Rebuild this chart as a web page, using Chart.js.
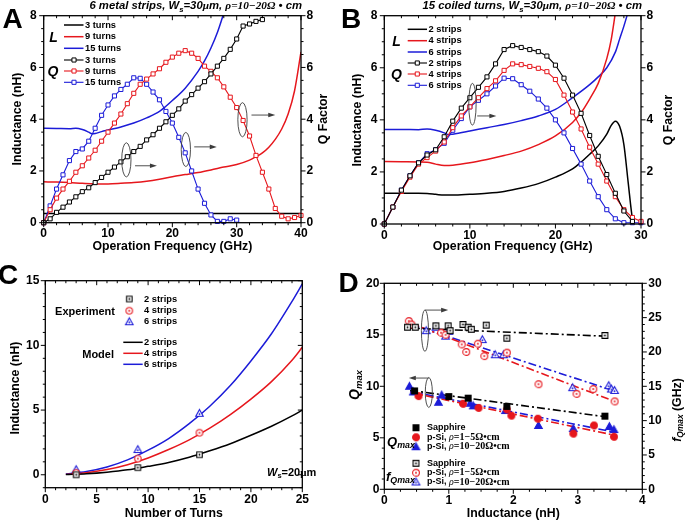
<!DOCTYPE html>
<html>
<head>
<meta charset="utf-8">
<title>Inductor figure</title>
<script src="https://cdn.jsdelivr.net/npm/chart.js@4.4.1/dist/chart.umd.min.js"></script>
<style>
  body { margin: 0; background: #fff; }
  #page { position: relative; width: 685px; height: 527px; overflow: hidden; font-family: "Liberation Sans", Arial, sans-serif; color: #000; }
  canvas { position: absolute; }
  .txt { position: absolute; white-space: nowrap; font-weight: bold; line-height: 1; }
  .mid { transform: translate(-50%, -50%); }
  .rot { transform: translate(-50%, -50%) rotate(-90deg); }
  .endl { transform: translate(-100%, -50%); }
  .startl { transform: translate(0, -50%); }
  .letter { font-size: 28px; }
  .head { font-style: italic; font-size: 11.3px; }
  .serif { font-family: "Liberation Serif", "Times New Roman", serif; }
  .ax { font-size: 12.3px; }
  .big { font-style: italic; font-size: 14px; }
  sub { font-size: 68%; vertical-align: -0.3em; line-height: 0; }
</style>
</head>
<body>
<div id="page">
  <canvas id="chartA" width="342" height="262" style="left:0;top:0"></canvas>
  <canvas id="chartB" width="343" height="262" style="left:342px;top:0"></canvas>
  <canvas id="chartC" width="342" height="265" style="left:0;top:262px"></canvas>
  <canvas id="chartD" width="343" height="265" style="left:342px;top:262px"></canvas>

  <div class="txt letter mid" style="left:12.5px;top:18.5px">A</div>
  <div class="txt letter mid" style="left:351px;top:19px">B</div>
  <div class="txt letter mid" style="left:8px;top:275px">C</div>
  <div class="txt letter mid" style="left:348.5px;top:282.5px">D</div>

  <div class="txt head endl" style="left:302px;top:5.5px">6 metal strips, W<sub>s</sub>=30<span class="serif">μ</span>m, <span class="serif">ρ=10−20Ω</span> • cm</div>
  <div class="txt head endl" style="left:642px;top:5.5px">15 coiled turns, W<sub>s</sub>=30<span class="serif">μ</span>m, <span class="serif">ρ=10−20Ω</span> • cm</div>

  <div class="txt ax rot" style="left:17px;top:119px">Inductance (nH)</div>
  <div class="txt ax rot" style="left:323px;top:119px">Q Factor</div>
  <div class="txt ax rot" style="left:357px;top:120px">Inductance (nH)</div>
  <div class="txt ax rot" style="left:668px;top:120px">Q Factor</div>
  <div class="txt ax rot" style="left:15px;top:388px">Inductance (nH)</div>
  <div class="txt rot" style="left:354px;top:385px;font-size:14px"><i>Q</i><sub><i>max</i></sub></div>
  <div class="txt ax rot" style="left:677px;top:410px"><i>f</i><sub><i>Qmax</i></sub> (GHz)</div>

  <div class="txt big mid" style="left:53.5px;top:36.7px">L</div>
  <div class="txt big mid" style="left:53px;top:71px">Q</div>
  <div class="txt big mid" style="left:396.5px;top:40.7px">L</div>
  <div class="txt big mid" style="left:396.5px;top:74px">Q</div>

  <div class="txt endl" style="left:115px;top:310.7px;font-size:11px">Experiment</div>
  <div class="txt endl" style="left:114px;top:354px;font-size:11px">Model</div>
  <div class="txt startl" style="left:267px;top:472px;font-size:11px"><i>W</i><sub>s</sub>=20<span class="serif">μ</span>m</div>

  <div class="txt startl" style="left:387px;top:441px;font-size:13px"><i>Q</i><sub><i>max</i></sub></div>
  <div class="txt startl" style="left:386px;top:476px;font-size:13px"><i>f</i><sub><i>Qmax</i></sub></div>
</div>

<script>
// ---------- panel A : 6 metal strips, L and Q versus frequency ----------
const fA_L3 = [0, 40];
const lA_3 = [0.36, 0.36];
const fA_L9 = [0, 2, 4, 6, 8, 10, 12, 14, 16, 18, 20, 22, 24, 26, 28, 30, 32, 33, 34, 35, 36, 37, 38, 39, 40];
const lA_9 = [1.58, 1.57, 1.55, 1.52, 1.5, 1.5, 1.52, 1.55, 1.6, 1.68, 1.78, 1.86, 1.94, 2.04, 2.15, 2.25, 2.42, 2.55, 2.7, 2.92, 3.22, 3.62, 4.2, 5.1, 6.6];
const fA_L15 = [0, 2, 4, 5, 6, 7, 7.5, 8, 9, 10, 12, 14, 16, 18, 19, 20, 22, 24, 25, 26, 27, 28];
const lA_15 = [3.65, 3.64, 3.63, 3.65, 3.6, 3.5, 3.44, 3.45, 3.52, 3.58, 3.7, 3.85, 4.05, 4.3, 4.5, 4.72, 5.2, 5.85, 6.25, 6.75, 7.35, 8.1];
const fA_Q = [0, 1, 2, 3, 4, 5, 6, 7, 8, 9, 10, 11, 12, 13, 14, 15, 16, 17, 18, 19, 20,
              21, 22, 23, 24, 25, 26, 27, 28, 29, 30, 31, 32, 33, 34, 35, 36, 37, 38, 39, 40];
const qA_3 = [0, 0.15, 0.4, 0.6, 0.8, 1.0, 1.2, 1.35, 1.55, 1.75, 1.95, 2.15, 2.35, 2.55, 2.75, 2.95, 3.2, 3.4,
              3.65, 3.9, 4.15, 4.4, 4.7, 4.95, 5.2, 5.45, 5.75, 6.05, 6.35, 6.7, 7.1, 7.6, 7.68, 7.78, 7.85];
const qA_9 = [0, 0.5, 0.95, 1.3, 1.6, 1.95, 2.2, 2.5, 2.8, 3.15, 3.5, 3.85, 4.2, 4.6, 5.0, 5.35, 5.55, 5.75, 5.95, 6.2,
              6.4, 6.55, 6.65, 6.55, 6.35, 6.05, 5.85, 5.6, 5.25, 4.85, 4.45, 3.95, 3.35, 2.6, 1.95, 1.3, 0.55, 0.25, 0.15, 0.2, 0.28];
const qA_15 = [0, 0.65, 1.3, 1.85, 2.4, 2.75, 2.85, 3.15, 3.65, 4.15, 4.55, 4.9, 5.15, 5.35, 5.6, 5.58,
               5.35, 5.05, 4.75, 4.3, 3.85, 3.3, 2.7, 2.0, 1.3, 0.75, 0.3, 0.05, 0.05, 0.15, 0.1];
const ticksA_x = [0, 10, 20, 30, 40];

// ---------- panel B : 15 coiled turns ----------
const fB_L2 = [0, 2, 4, 5, 6, 7, 8, 10, 12, 14, 16, 18, 20, 22, 23, 24, 25, 26, 26.5, 27, 27.5, 28, 28.5, 29, 29.2];
const lB_2 = [1.18, 1.18, 1.18, 1.17, 1.14, 1.11, 1.11, 1.14, 1.18, 1.25, 1.38, 1.55, 1.8, 2.12, 2.38, 2.68, 3.0, 3.45, 3.78, 3.95, 3.75, 3.05, 1.6, 0.2, 0];
const fB_L4 = [0, 2, 4, 5, 6, 7, 8, 10, 12, 14, 16, 18, 20, 22, 23, 24, 25, 26, 26.5, 27];
const lB_4 = [2.4, 2.39, 2.38, 2.37, 2.3, 2.25, 2.26, 2.35, 2.48, 2.63, 2.8, 3.05, 3.38, 3.9, 4.28, 4.8, 5.4, 6.35, 7.05, 8.1];
const fB_L6 = [0, 2, 4, 5, 6, 7, 7.5, 8, 10, 12, 14, 16, 18, 20, 22, 24, 25, 26, 27, 27.5, 28, 28.5];
const lB_6 = [3.63, 3.63, 3.62, 3.65, 3.6, 3.5, 3.43, 3.45, 3.57, 3.7, 3.82, 3.97, 4.15, 4.4, 4.85, 5.35, 5.65, 6.0, 6.6, 7.1, 7.6, 8.15];
const fB_Q = [0, 1, 2, 3, 4, 5, 6, 7, 8, 9, 10, 11, 12, 13, 14, 15, 16, 17, 18, 19, 20,
              21, 22, 23, 24, 25, 26, 27, 28, 29, 30];
const qB_2 = [0, 0.65, 1.3, 1.85, 2.35, 2.65, 2.85, 3.35, 3.95, 4.45, 4.85, 5.25, 5.65, 6.15, 6.7, 6.85,
              6.78, 6.7, 6.62, 6.45, 6.1, 5.6, 4.95, 4.25, 3.4, 2.6, 1.9, 1.18, 0.5, 0.1];
const qB_4 = [0, 0.65, 1.25, 1.8, 2.3, 2.55, 2.8, 3.15, 3.7, 4.15, 4.5, 4.85, 5.2, 5.5, 5.9, 6.15,
              6.12, 6.05, 5.98, 5.85, 5.55, 4.95, 4.3, 3.65, 2.95, 2.3, 1.65, 1.05, 0.55, 0.25, 0.1];
const qB_6 = [0, 0.65, 1.3, 1.85, 2.35, 2.7, 2.85, 3.1, 3.6, 4.05, 4.5, 4.75, 5.0, 5.3, 5.6, 5.58,
              5.35, 5.1, 4.8, 4.45, 4.0, 3.5, 2.9, 2.3, 1.65, 1.05, 0.55, 0.2, 0.05, 0.05, 0.05];
const ticksB_x = [0, 10, 20, 30];
const ticksQ = [0, 2, 4, 6, 8];

// ---------- panel C : inductance versus number of turns ----------
const turnsExp = [3, 9, 15];
const expC2 = [0.0, 0.55, 1.55];
const expC4 = [0.15, 1.25, 3.25];
const expC6 = [0.4, 1.95, 4.75];
const turnsModel = [2, 4, 6, 8, 10, 12, 14, 16, 18, 20, 22, 24, 25];
const modelC2 = [0.02, 0.08, 0.2, 0.38, 0.65, 0.95, 1.35, 1.85, 2.4, 3.05, 3.75, 4.55, 5.0];
const modelC4 = [0.03, 0.15, 0.4, 0.78, 1.3, 1.95, 2.7, 3.6, 4.65, 5.85, 7.2, 8.85, 9.85];
const modelC6 = [0.05, 0.25, 0.6, 1.15, 1.9, 2.8, 3.95, 5.3, 6.9, 8.8, 10.9, 13.4, 14.75];
const ticksC_x = [0, 5, 10, 15, 20, 25];
const ticksC_y = [0, 5, 10, 15];

// ---------- panel D : Qmax and fQmax versus inductance ----------
const lSapQ = [0.47, 1.0, 1.3, 1.9, 3.42];
const qSap = [9.55, 9.0, 8.85, 8.05, 7.1];
const lSi5Q = [0.53, 1.22, 1.46, 1.9, 1.97, 2.38, 2.93, 3.25, 3.56];
const qSi5 = [9.05, 8.3, 7.9, 7.75, 7.15, 6.85, 5.4, 6.2, 5.1];
const lSi20Q = [0.39, 0.45, 0.84, 0.89, 1.33, 1.38, 1.88, 2.39, 2.93, 3.49, 3.56];
const qSi20 = [10.0, 9.45, 8.45, 9.15, 8.35, 8.1, 7.65, 6.2, 5.9, 6.1, 5.8];
const lSapF = [0.36, 0.48, 0.8, 0.99, 1.02, 1.22, 1.3, 1.35, 1.58, 1.9, 3.42];
const fSap = [23.6, 23.6, 23.8, 23.8, 23.1, 24.0, 23.6, 23.3, 23.9, 22.0, 22.4];
const lSi5F = [0.38, 0.42, 0.88, 0.95, 1.2, 1.27, 1.45, 1.55, 1.9, 2.39, 2.98, 3.24, 3.57];
const fSi5 = [24.5, 24.0, 22.8, 22.5, 21.1, 20.0, 21.2, 19.4, 19.9, 15.3, 13.9, 14.6, 12.8];
const lSi20F = [0.4, 0.65, 0.8, 0.95, 1.0, 1.52, 1.72, 1.85, 2.92, 3.48, 3.52, 3.57];
const fSi20 = [24.3, 23.1, 23.6, 22.3, 23.0, 21.8, 19.6, 19.6, 14.8, 15.1, 14.6, 14.4];
const fitXSapF = [0.35, 3.42], fitYSapF = [23.5, 22.3];
const fitXSi5F = [0.35, 3.57], fitYSi5F = [24.4, 12.8];
const fitXSi20F = [0.35, 3.57], fitYSi20F = [24.2, 14.3];
const fitXSapQ = [0.4, 3.42], fitYSapQ = [9.6, 7.05];
const fitXSi5Q = [0.4, 3.57], fitYSi5Q = [9.4, 5.25];
const fitXSi20Q = [0.4, 3.57], fitYSi20Q = [9.5, 5.55];
const ticksD_x = [0, 1, 2, 3, 4];
const ticksD_q = [0, 5, 10, 15, 20];
const ticksD_f = [0, 5, 10, 15, 20, 25, 30];

const SANS = '"Liberation Sans", Arial, sans-serif';
const SERIF = '"Liberation Serif", "Times New Roman", serif';
const INK = '#000000', RED = '#e6171d', BLUE = '#1c1cd8';

function pts(xs, ys) {
    return ys.map((y, i) => ({ x: xs[i], y: y }));
}

// small canvas used as a point style (open marks get a centre dot)
function markerImg(shape, color, size, filled, dot) {
    let c = document.createElement('canvas');
    let s = Math.ceil(size + 3);
    c.width = s; c.height = s;
    let g = c.getContext('2d');
    let m = s / 2, h = size / 2;
    g.lineWidth = 1.1;
    g.strokeStyle = color;
    g.fillStyle = filled ? color : '#ffffff';
    g.beginPath();
    if (shape === 'square') g.rect(m - h, m - h, size, size);
    else if (shape === 'circle') g.arc(m, m, h, 0, Math.PI * 2);
    else { g.moveTo(m, m - h); g.lineTo(m + h, m + h * 0.8); g.lineTo(m - h, m + h * 0.8); g.closePath(); }
    g.fill();
    g.stroke();
    if (dot) {
        g.fillStyle = color;
        g.beginPath();
        g.arc(m, m + (shape === 'triangle' ? h * 0.2 : 0), 0.9, 0, Math.PI * 2);
        g.fill();
    }
    return c;
}

function lineSet(label, xs, ys, color, axis) {
    return { label: label, data: pts(xs, ys), showLine: true, borderColor: color, backgroundColor: color,
        borderWidth: 1.5, pointRadius: 0, yAxisID: axis, cubicInterpolationMode: 'monotone' };
}

function qSet(label, xs, ys, color, axis) {
    return { label: label, data: pts(xs, ys), showLine: true, borderColor: color, borderWidth: 1.1,
        pointStyle: 'rect', pointRadius: 2.9, pointBorderWidth: 1, pointBackgroundColor: '#ffffff',
        pointBorderColor: color, yAxisID: axis, clip: 5 };
}

function markSet(label, xs, ys, color, axis, img) {
    return { label: label, data: pts(xs, ys), showLine: false, borderColor: color, backgroundColor: color,
        pointStyle: img, pointRadius: 3, yAxisID: axis, clip: false };
}

function fitSet(label, xs, ys, color, axis) {
    return { label: label, data: pts(xs, ys), showLine: true, borderColor: color, borderWidth: 1.6,
        borderDash: [8, 3, 2, 3], pointRadius: 0, yAxisID: axis };
}

const tickFont = { family: SANS, size: 12, weight: 'bold' };

function xScale(min, max, ticks, title, height, titlePad, pad) {
    return { type: 'linear', position: 'bottom', min: min, max: max,
        afterBuildTicks: s => { s.ticks = ticks.map(v => ({ value: v })); },
        afterFit: s => { s.height = height; },
        ticks: { padding: pad, color: INK, font: tickFont, maxRotation: 0 },
        grid: { display: false, drawTicks: false }, border: { display: false },
        title: { display: true, text: title, color: INK, font: { family: SANS, size: 12.3, weight: 'bold' },
            padding: { top: 0, bottom: titlePad } } };
}

function yScale(pos, min, max, ticks, width, pad) {
    return { type: 'linear', position: pos, min: min, max: max,
        afterBuildTicks: s => { s.ticks = ticks.map(v => ({ value: v })); },
        afterFit: s => { s.width = width; },
        ticks: { padding: pad, color: INK, font: tickFont },
        grid: { display: false, drawTicks: false }, border: { display: false } };
}

function drawRich(ctx, parts, x, y) {
    ctx.fillStyle = INK;
    ctx.textBaseline = 'middle';
    ctx.textAlign = 'left';
    let cx = x;
    parts.forEach(p => {
        ctx.font = p.f;
        ctx.fillText(p.t, cx, y + (p.dy || 0));
        cx += ctx.measureText(p.t).width;
    });
}

// frame, minor ticks, ellipse/arrow notes and the in-plot key
function decor(cfg) {
    return {
        id: 'decor',
        afterDatasetsDraw(chart) {
            let ctx = chart.ctx, a = chart.chartArea, sx = chart.scales.x;
            ctx.save();

            (cfg.notes || []).forEach(n => {
                let sy = chart.scales[n.axis];
                ctx.strokeStyle = '#3c3c3c';
                ctx.fillStyle = '#3c3c3c';
                ctx.lineWidth = 0.9;
                ctx.setLineDash([]);
                if (n.kind === 'ellipse') {
                    let cx = sx.getPixelForValue(n.x), cy = sy.getPixelForValue(n.y);
                    let rx = Math.abs(sx.getPixelForValue(n.x + n.rx) - cx);
                    let ry = Math.abs(sy.getPixelForValue(n.y + n.ry) - cy);
                    ctx.beginPath();
                    ctx.ellipse(cx, cy, rx, ry, 0, 0, Math.PI * 2);
                    ctx.stroke();
                } else {
                    let x1 = sx.getPixelForValue(n.x1), x2 = sx.getPixelForValue(n.x2), y = sy.getPixelForValue(n.y);
                    let d = x2 > x1 ? 1 : -1;
                    ctx.beginPath();
                    ctx.moveTo(x1, y);
                    ctx.lineTo(x2 - d * 5, y);
                    ctx.stroke();
                    ctx.beginPath();
                    ctx.moveTo(x2, y);
                    ctx.lineTo(x2 - d * 7, y - 2.3);
                    ctx.lineTo(x2 - d * 7, y + 2.3);
                    ctx.closePath();
                    ctx.fill();
                }
            });

            ctx.strokeStyle = INK;
            ctx.lineWidth = 1.3;
            ctx.setLineDash([]);
            ctx.strokeRect(a.left, a.top, a.right - a.left, a.bottom - a.top);
            ctx.lineWidth = 1;
            cfg.frame.forEach(f => {
                let s = chart.scales[f.id];
                let n = Math.round((s.max - s.min) / f.minor);
                for (let i = 0; i <= n; i++) {
                    let v = s.min + i * f.minor;
                    let major = s.ticks.some(t => Math.abs(t.value - v) < 1e-6);
                    let len = major ? 4.5 : 2.5;
                    let p = s.getPixelForValue(v);
                    f.sides.forEach(sd => {
                        let out = sd[1] === 'out';
                        ctx.beginPath();
                        if (sd[0] === 'bottom') { ctx.moveTo(p, a.bottom); ctx.lineTo(p, a.bottom + (out ? len : -len)); }
                        if (sd[0] === 'top') { ctx.moveTo(p, a.top); ctx.lineTo(p, a.top + (out ? -len : len)); }
                        if (sd[0] === 'left') { ctx.moveTo(a.left, p); ctx.lineTo(a.left + (out ? -len : len), p); }
                        if (sd[0] === 'right') { ctx.moveTo(a.right, p); ctx.lineTo(a.right + (out ? len : -len), p); }
                        ctx.stroke();
                    });
                }
            });

            (cfg.keys || []).forEach(k => {
                let ds = chart.data.datasets[k.ds];
                if (k.x1 !== undefined) {
                    ctx.strokeStyle = ds.borderColor;
                    ctx.lineWidth = ds.borderWidth;
                    ctx.setLineDash(ds.borderDash || []);
                    ctx.beginPath();
                    ctx.moveTo(k.x0, k.y);
                    ctx.lineTo(k.x1, k.y);
                    ctx.stroke();
                }
                if (k.mx !== undefined) {
                    ctx.setLineDash([]);
                    ctx.fillStyle = ds.pointBackgroundColor || ds.borderColor;
                    ctx.strokeStyle = ds.pointBorderColor || ds.borderColor;
                    ctx.lineWidth = ds.pointBorderWidth || 1;
                    Chart.helpers.drawPoint(ctx, { pointStyle: ds.pointStyle, radius: ds.pointRadius,
                        borderWidth: ds.pointBorderWidth || 1, rotation: 0 }, k.mx, k.y);
                }
                let parts;
                if (ds.label.indexOf('ρ') >= 0) {
                    let i = ds.label.indexOf('ρ');
                    parts = [{ t: ds.label.slice(0, i), f: cfg.keyFont },
                        { t: 'ρ', f: 'italic 10px ' + SERIF },
                        { t: ds.label.slice(i + 1), f: 'bold 10px ' + SERIF }];
                } else {
                    parts = [{ t: ds.label, f: cfg.keyFont }];
                }
                drawRich(ctx, parts, k.tx, k.y);
            });
            ctx.restore();
        }
    };
}

function baseOptions(scales, padding) {
    return { responsive: false, animation: false, devicePixelRatio: 1,
        layout: { padding: padding }, scales: scales,
        plugins: { legend: { display: false }, tooltip: { enabled: false } } };
}

Chart.defaults.font.family = SANS;
Chart.defaults.color = INK;

// ----- A -----
new Chart(document.getElementById('chartA'), {
    type: 'scatter',
    data: { datasets: [
        qSet('3 turns', fA_Q.slice(0, qA_3.length), qA_3, INK, 'y2'),
        qSet('9 turns', fA_Q.slice(0, qA_9.length), qA_9, RED, 'y2'),
        qSet('15 turns', fA_Q.slice(0, qA_15.length), qA_15, BLUE, 'y2'),
        lineSet('3 turns', fA_L3, lA_3, INK, 'y'),
        lineSet('9 turns', fA_L9, lA_9, RED, 'y'),
        lineSet('15 turns', fA_L15, lA_15, BLUE, 'y')
    ] },
    options: baseOptions({
        x: xScale(0, 40, ticksA_x, 'Operation Frequency (GHz)', 39.3, 7.6, 4),
        y: yScale('left', 0, 8, ticksQ, 43.7, 7),
        y2: yScale('right', 0, 8, ticksQ, 41, 5.5)
    }, { top: 15.7, left: 0, right: 0, bottom: 0 }),
    plugins: [decor({
        frame: [{ id: 'x', minor: 2, sides: [['bottom', 'out'], ['top', 'in']] },
                { id: 'y', minor: 0.5, sides: [['left', 'out']] },
                { id: 'y2', minor: 0.5, sides: [['right', 'out']] }],
        notes: [{ kind: 'ellipse', axis: 'y', x: 12.85, y: 2.43, rx: 0.72, ry: 0.66 },
                { kind: 'arrow', axis: 'y', x1: 14.2, x2: 17.6, y: 2.2 },
                { kind: 'ellipse', axis: 'y', x: 22.1, y: 2.83, rx: 0.72, ry: 0.66 },
                { kind: 'arrow', axis: 'y', x1: 23.4, x2: 26.9, y: 2.93 },
                { kind: 'ellipse', axis: 'y', x: 30.9, y: 3.98, rx: 0.72, ry: 0.66 },
                { kind: 'arrow', axis: 'y', x1: 32.3, x2: 36.0, y: 4.16 }],
        keyFont: 'bold 9.3px ' + SANS,
        keys: [{ ds: 3, x0: 64, x1: 83.5, y: 25, tx: 85 },
               { ds: 4, x0: 64, x1: 83.5, y: 36.7, tx: 85 },
               { ds: 5, x0: 64, x1: 83.5, y: 48.3, tx: 85 },
               { ds: 0, x0: 64, x1: 83.5, mx: 74, y: 60, tx: 85 },
               { ds: 1, x0: 64, x1: 83.5, mx: 74, y: 71, tx: 85 },
               { ds: 2, x0: 64, x1: 83.5, mx: 74, y: 82.3, tx: 85 }]
    })]
});

// ----- B -----
new Chart(document.getElementById('chartB'), {
    type: 'scatter',
    data: { datasets: [
        qSet('2 strips', fB_Q.slice(0, qB_2.length), qB_2, INK, 'y2'),
        qSet('4 strips', fB_Q.slice(0, qB_4.length), qB_4, RED, 'y2'),
        qSet('6 strips', fB_Q.slice(0, qB_6.length), qB_6, BLUE, 'y2'),
        lineSet('2 strips', fB_L2, lB_2, INK, 'y'),
        lineSet('4 strips', fB_L4, lB_4, RED, 'y'),
        lineSet('6 strips', fB_L6, lB_6, BLUE, 'y')
    ] },
    options: baseOptions({
        x: xScale(0, 30, ticksB_x, 'Operation Frequency (GHz)', 38, 7.6, 4),
        y: yScale('left', 0, 8, ticksQ, 42.3, 7),
        y2: yScale('right', 0, 8, ticksQ, 44, 5.5)
    }, { top: 15.7, left: 0, right: 0, bottom: 0 }),
    plugins: [decor({
        frame: [{ id: 'x', minor: 2, sides: [['bottom', 'out'], ['top', 'in']] },
                { id: 'y', minor: 0.5, sides: [['left', 'out']] },
                { id: 'y2', minor: 0.5, sides: [['right', 'out']] }],
        notes: [{ kind: 'ellipse', axis: 'y', x: 10.3, y: 4.6, rx: 0.43, ry: 0.8 },
                { kind: 'arrow', axis: 'y', x1: 10.86, x2: 13.1, y: 4.15 }],
        keyFont: 'bold 9.3px ' + SANS,
        keys: [{ ds: 3, x0: 65.7, x1: 85, y: 29.3, tx: 86.5 },
               { ds: 4, x0: 65.7, x1: 85, y: 40.7, tx: 86.5 },
               { ds: 5, x0: 65.7, x1: 85, y: 52, tx: 86.5 },
               { ds: 0, x0: 65.7, x1: 85, mx: 75.3, y: 63, tx: 86.5 },
               { ds: 1, x0: 65.7, x1: 85, mx: 75.3, y: 74, tx: 86.5 },
               { ds: 2, x0: 65.7, x1: 85, mx: 75.3, y: 85.3, tx: 86.5 }]
    })]
});

// ----- C -----
new Chart(document.getElementById('chartC'), {
    type: 'scatter',
    data: { datasets: [
        markSet('2 strips', turnsExp, expC2, INK, 'y', markerImg('square', INK, 5.5, false, true)),
        markSet('4 strips', turnsExp, expC4, RED, 'y', markerImg('circle', RED, 6.5, false, true)),
        markSet('6 strips', turnsExp, expC6, BLUE, 'y', markerImg('triangle', BLUE, 7.5, false, true)),
        lineSet('2 strips', turnsModel, modelC2, INK, 'y'),
        lineSet('4 strips', turnsModel, modelC4, RED, 'y'),
        lineSet('6 strips', turnsModel, modelC6, BLUE, 'y')
    ] },
    options: baseOptions({
        x: xScale(0, 25, ticksC_x, 'Number of Turns', 39.3, 5.6, 5),
        y: yScale('left', -1, 15, ticksC_y, 45.3, 6)
    }, { top: 18.7, left: 0, right: 39.7, bottom: 0 }),
    plugins: [decor({
        frame: [{ id: 'x', minor: 1, sides: [['bottom', 'out'], ['top', 'in']] },
                { id: 'y', minor: 1, sides: [['left', 'out'], ['right', 'in']] }],
        keyFont: 'bold 9.3px ' + SANS,
        keys: [{ ds: 0, mx: 129.3, y: 37, tx: 144 },
               { ds: 1, mx: 129.3, y: 48.7, tx: 144 },
               { ds: 2, mx: 129.3, y: 59.7, tx: 144 },
               { ds: 3, x0: 123.3, x1: 142.7, y: 80.3, tx: 144 },
               { ds: 4, x0: 123.3, x1: 142.7, y: 91.3, tx: 144 },
               { ds: 5, x0: 123.3, x1: 142.7, y: 102.3, tx: 144 }]
    })]
});

// ----- D -----
new Chart(document.getElementById('chartD'), {
    type: 'scatter',
    data: { datasets: [
        markSet('Sapphire', lSapQ, qSap, INK, 'y', markerImg('square', INK, 5.8, true, false)),
        markSet('p-Si, ρ=1−5Ω•cm', lSi5Q, qSi5, RED, 'y', markerImg('circle', RED, 6.8, true, false)),
        markSet('p-Si, ρ=10−20Ω•cm', lSi20Q, qSi20, BLUE, 'y', markerImg('triangle', BLUE, 7.6, true, false)),
        markSet('Sapphire', lSapF, fSap, INK, 'y2', markerImg('square', INK, 5.8, false, true)),
        markSet('p-Si, ρ=1−5Ω•cm', lSi5F, fSi5, RED, 'y2', markerImg('circle', RED, 6.8, false, true)),
        markSet('p-Si, ρ=10−20Ω•cm', lSi20F, fSi20, BLUE, 'y2', markerImg('triangle', BLUE, 7.6, false, true)),
        fitSet('Sapphire fit', fitXSapF, fitYSapF, INK, 'y2'),
        fitSet('1-5 fit', fitXSi5F, fitYSi5F, RED, 'y2'),
        fitSet('10-20 fit', fitXSi20F, fitYSi20F, BLUE, 'y2'),
        fitSet('Sapphire fit', fitXSapQ, fitYSapQ, INK, 'y'),
        fitSet('1-5 fit', fitXSi5Q, fitYSi5Q, RED, 'y'),
        fitSet('10-20 fit', fitXSi20Q, fitYSi20Q, BLUE, 'y')
    ] },
    options: baseOptions({
        x: xScale(0, 4, ticksD_x, 'Inductance (nH)', 37.7, 5.6, 4.5),
        y: yScale('left', 0, 20, ticksD_q, 42.3, 5),
        y2: yScale('right', 0, 30, ticksD_f, 42.7, 6)
    }, { top: 21.3, left: 0, right: 0, bottom: 0 }),
    plugins: [decor({
        frame: [{ id: 'x', minor: 0.25, sides: [['bottom', 'out'], ['top', 'in']] },
                { id: 'y', minor: 1, sides: [['left', 'out']] },
                { id: 'y2', minor: 1, sides: [['right', 'out']] }],
        notes: [{ kind: 'ellipse', axis: 'y', x: 0.63, y: 15.4, rx: 0.055, ry: 2.0 },
                { kind: 'arrow', axis: 'y', x1: 0.63, x2: 0.99, y: 17.4 },
                { kind: 'ellipse', axis: 'y', x: 0.69, y: 9.4, rx: 0.055, ry: 1.45 },
                { kind: 'arrow', axis: 'y', x1: 0.69, x2: 0.38, y: 10.8 }],
        keyFont: 'bold 9px ' + SANS,
        keys: [{ ds: 0, mx: 74, y: 165.7, tx: 85 },
               { ds: 1, mx: 74, y: 175.3, tx: 85 },
               { ds: 2, mx: 74, y: 184.7, tx: 85 },
               { ds: 3, mx: 74, y: 201.3, tx: 85 },
               { ds: 4, mx: 74, y: 210.7, tx: 85 },
               { ds: 5, mx: 74, y: 220, tx: 85 }]
    })]
});
</script>
</body>
</html>
